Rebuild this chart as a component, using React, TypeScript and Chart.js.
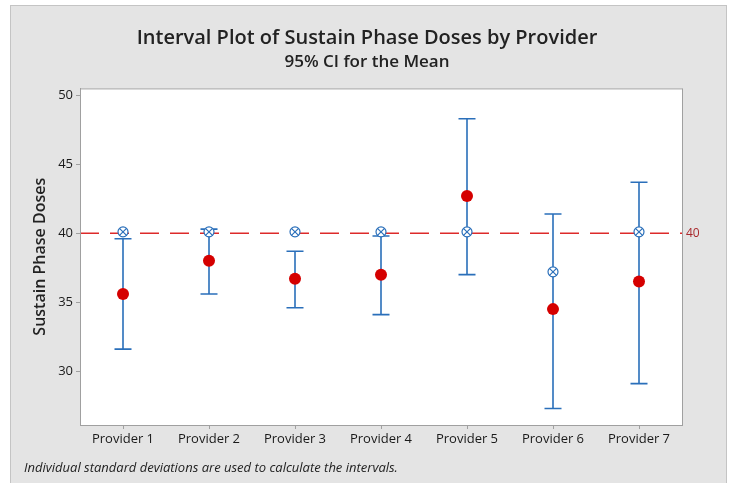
import React, { useEffect, useRef } from 'react';
import { Chart, registerables } from 'chart.js';

Chart.register(...registerables);

const providers = ['Provider 1', 'Provider 2', 'Provider 3', 'Provider 4', 'Provider 5', 'Provider 6', 'Provider 7'];
const means = [35.6, 38.0, 36.7, 37.0, 42.7, 34.5, 36.5];
const lowerCI = [31.6, 35.6, 34.6, 34.1, 37.0, 27.3, 29.1];
const upperCI = [39.6, 40.3, 38.7, 39.8, 48.3, 41.4, 43.7];
const targets = [40.1, 40.1, 40.1, 40.1, 40.1, 37.2, 40.1];
const referenceValue = 40;
const yTicks = [30, 35, 40, 45, 50];

const FONT = '"Open Sans", "Noto Sans", sans-serif';
const BLUE = '#2a6fba';
const RED = '#d50000';

const backgroundPlugin = {
  id: 'bgFrame',
  beforeDraw(chart: any) {
    const { ctx, width, height, chartArea } = chart;
    ctx.save();
    ctx.fillStyle = '#ffffff';
    ctx.fillRect(0, 0, width, height);
    ctx.fillStyle = '#e4e4e4';
    ctx.fillRect(10, 5, 717, height);
    ctx.strokeStyle = '#c4c4c4';
    ctx.lineWidth = 1;
    ctx.strokeRect(10.5, 5.5, 716, height + 5);
    ctx.fillStyle = '#ffffff';
    ctx.fillRect(chartArea.left, chartArea.top, chartArea.right - chartArea.left, chartArea.bottom - chartArea.top);
    ctx.restore();
  },
};

const intervalPlugin = {
  id: 'intervals',
  beforeDatasetsDraw(chart: any) {
    const { ctx, chartArea, scales } = chart;
    const x = scales.x;
    const y = scales.y;
    ctx.save();
    // reference line
    const yr = y.getPixelForValue(referenceValue);
    ctx.strokeStyle = '#dd2a2a';
    ctx.lineWidth = 1.5;
    ctx.setLineDash([19, 11]);
    ctx.beginPath();
    ctx.moveTo(chartArea.left, yr);
    ctx.lineTo(chartArea.right, yr);
    ctx.stroke();
    ctx.setLineDash([]);
    ctx.fillStyle = '#a8282c';
    ctx.font = `12px ${FONT}`;
    ctx.textBaseline = 'middle';
    ctx.textAlign = 'left';
    ctx.fillText(String(referenceValue), chartArea.right + 4, yr);
    // error bars
    ctx.strokeStyle = BLUE;
    ctx.lineWidth = 1.6;
    for (let i = 0; i < providers.length; i++) {
      const px = x.getPixelForValue(i);
      const yl = y.getPixelForValue(lowerCI[i]);
      const yh = y.getPixelForValue(upperCI[i]);
      ctx.beginPath();
      ctx.moveTo(px, yl);
      ctx.lineTo(px, yh);
      ctx.moveTo(px - 8.5, yl);
      ctx.lineTo(px + 8.5, yl);
      ctx.moveTo(px - 8.5, yh);
      ctx.lineTo(px + 8.5, yh);
      ctx.stroke();
    }
    ctx.restore();
  },
  afterDraw(chart: any) {
    const { ctx, chartArea } = chart;
    ctx.save();
    ctx.strokeStyle = '#a0a0a0';
    ctx.lineWidth = 1;
    ctx.strokeRect(chartArea.left + 0.5, chartArea.top + 0.5, chartArea.right - chartArea.left, chartArea.bottom - chartArea.top);
    ctx.fillStyle = '#222222';
    ctx.font = `italic 13px ${FONT}`;
    ctx.textBaseline = 'middle';
    ctx.textAlign = 'left';
    ctx.fillText('Individual standard deviations are used to calculate the intervals.', 24, 468);
    ctx.restore();
  },
};

export default function App() {
  const ref = useRef<HTMLCanvasElement | null>(null);
  useEffect(() => {
    if (!ref.current) return;
    const chart = new Chart(ref.current, {
      type: 'line',
      data: {
        labels: providers,
        datasets: [
          {
            label: 'Mean',
            data: means,
            showLine: false,
            pointStyle: 'circle',
            pointRadius: 6,
            pointBackgroundColor: RED,
            pointBorderColor: RED,
            pointBorderWidth: 0,
            order: 0,
          },
          {
            label: 'Target',
            data: targets,
            showLine: false,
            pointStyle: 'crossRot',
            pointRadius: 5,
            pointBorderColor: BLUE,
            pointBorderWidth: 1.2,
            order: 1,
          },
          {
            label: 'Target circle',
            data: targets,
            showLine: false,
            pointStyle: 'circle',
            pointRadius: 5,
            pointBackgroundColor: '#ffffff',
            pointBorderColor: BLUE,
            pointBorderWidth: 1.2,
            order: 2,
          },
        ],
      },
      options: {
        animation: false,
        responsive: false,
        layout: { padding: { left: 0, right: 0, top: 0, bottom: 0 } },
        plugins: {
          legend: { display: false },
          tooltip: { enabled: false },
          title: {
            display: true,
            text: 'Interval Plot of Sustain Phase Doses by Provider',
            color: '#222222',
            font: { family: FONT, size: 20, weight: '600' },
            padding: { top: 26, bottom: 0 },
          },
          subtitle: {
            display: true,
            text: '95% CI for the Mean',
            color: '#222222',
            font: { family: FONT, size: 17, weight: '600' },
            padding: { top: 2, bottom: 16 },
          },
        },
        scales: {
          x: {
            type: 'category',
            offset: true,
            grid: { display: true, drawOnChartArea: false, drawTicks: true, tickLength: 4, color: '#a0a0a0', offset: false },
            border: { color: '#a0a0a0' },
            ticks: { font: { family: FONT, size: 13 }, color: '#1a1a1a', padding: 2, maxRotation: 0, autoSkip: false },
            afterFit: (s: any) => { s.height = 58; },
          },
          y: {
            type: 'linear',
            min: 26.1,
            max: 50.5,
            afterBuildTicks: (s: any) => { s.ticks = yTicks.map((v) => ({ value: v })); },
            grid: { display: true, drawOnChartArea: false, drawTicks: true, tickLength: 4, color: '#a0a0a0' },
            border: { color: '#a0a0a0' },
            ticks: { font: { family: FONT, size: 13 }, color: '#1a1a1a', padding: 3 },
            title: {
              display: true,
              text: 'Sustain Phase Doses',
              color: '#222222',
              font: { family: FONT, size: 16, weight: '600' },
              padding: { top: 31, bottom: 0 },
            },
            afterFit: (s: any) => { s.width = 80; },
          },
          rightSpace: {
            type: 'linear',
            position: 'right',
            display: true,
            grid: { display: false },
            border: { display: false },
            ticks: { display: false },
            afterFit: (s: any) => { s.width = 52; },
          },
        },
      },
      plugins: [backgroundPlugin, intervalPlugin],
    } as any);
    return () => chart.destroy();
  }, []);
  return (
    <div style={{ position: 'absolute', left: 0, top: 0, width: 734, height: 483 }}>
      <canvas ref={ref} width={734} height={483} />
    </div>
  );
}
